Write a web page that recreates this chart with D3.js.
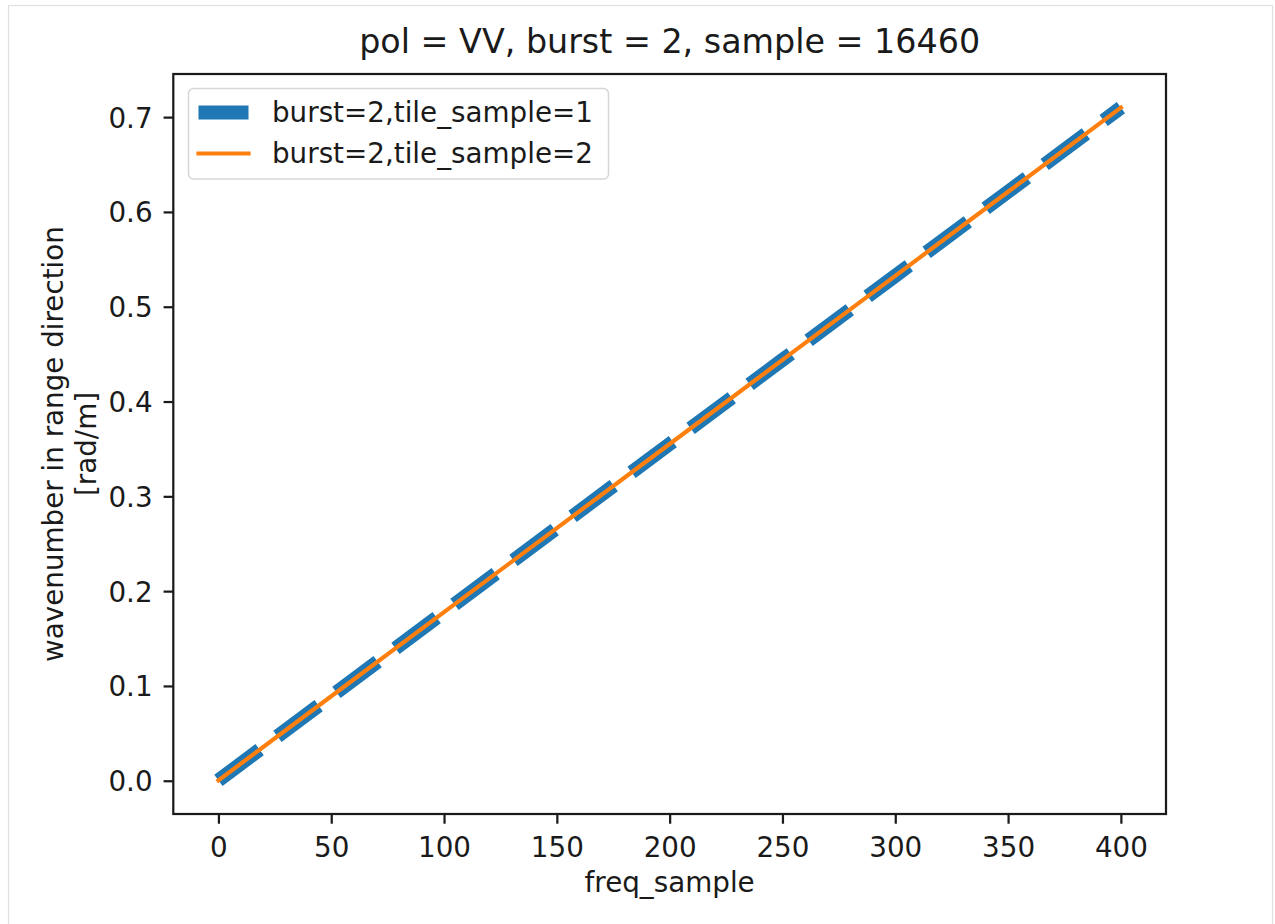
<!DOCTYPE html>
<html>
<head>
<meta charset="utf-8">
<script src="https://cdn.jsdelivr.net/npm/d3@7"></script>
<style>
  body { margin: 0; background: #fff; }
  text { font-family: "DejaVu Sans", sans-serif; fill: #1a1a1a; }
</style>
</head>
<body>
<div id="chart"></div>
<script>
// wavenumber vs freq_sample, two tiles of the same burst (they overlap)
const freqSample = [0, 50, 100, 150, 200, 250, 300, 350, 400];
const tile1Wavenumber = [0.0004, 0.0891, 0.1778, 0.2665, 0.3552, 0.4439, 0.5326, 0.6213, 0.7100];
const tile2Wavenumber = [0.0004, 0.0891, 0.1778, 0.2665, 0.3552, 0.4439, 0.5326, 0.6213, 0.7100];
const xTicks = [0, 50, 100, 150, 200, 250, 300, 350, 400];
const yTicks = [0.0, 0.1, 0.2, 0.3, 0.4, 0.5, 0.6, 0.7];
const seriesNames = ['burst=2,tile_sample=1', 'burst=2,tile_sample=2'];
const titleText = 'pol = VV, burst = 2, sample = 16460';

(function () {
  const width = 1275, height = 924;
  const box = { left: 173.3, right: 1166, top: 74, bottom: 814 };
  const pt = 200 / 72; // figure rendered at 200 dpi
  const fs = 10 * pt;

  const svg = d3.select('#chart').append('svg').attr('width', width).attr('height', height);

  // notebook output frame
  svg.append('rect').attr('x', 8.5).attr('y', 5.5).attr('width', 1264).attr('height', 940)
    .attr('fill', '#fff').attr('stroke', '#e0e0e0').attr('stroke-width', 1.2);

  // matplotlib style 5% margins
  const xExt = d3.extent(freqSample), yExt = d3.extent(tile1Wavenumber.concat(tile2Wavenumber));
  const xPad = (xExt[1] - xExt[0]) * 0.05, yPad = (yExt[1] - yExt[0]) * 0.05;
  const x = d3.scaleLinear().domain([xExt[0] - xPad, xExt[1] + xPad]).range([box.left, box.right]);
  const y = d3.scaleLinear().domain([yExt[0] - yPad, yExt[1] + yPad]).range([box.bottom, box.top]);

  const tickLen = 3.5 * pt;

  // x axis
  const xAxis = svg.append('g').attr('transform', `translate(0,${box.bottom})`)
    .call(d3.axisBottom(x).tickValues(xTicks).tickSize(tickLen).tickFormat(d3.format('d')));
  xAxis.select('.domain').remove();
  xAxis.selectAll('line').attr('stroke', '#1a1a1a').attr('stroke-width', 0.8 * pt);
  xAxis.selectAll('text').attr('font-size', fs).attr('font-family', '"DejaVu Sans", sans-serif')
    .attr('fill', '#1a1a1a').attr('y', 42.5).attr('dy', 0);

  // y axis
  const yAxis = svg.append('g').attr('transform', `translate(${box.left},0)`)
    .call(d3.axisLeft(y).tickValues(yTicks).tickSize(tickLen).tickPadding(11).tickFormat(d3.format('.1f')));
  yAxis.select('.domain').remove();
  yAxis.selectAll('line').attr('stroke', '#1a1a1a').attr('stroke-width', 0.8 * pt);
  yAxis.selectAll('text').attr('font-size', fs).attr('font-family', '"DejaVu Sans", sans-serif')
    .attr('fill', '#1a1a1a').attr('dy', '0.36em');

  // clip + lines
  svg.append('clipPath').attr('id', 'clip').append('rect')
    .attr('x', box.left).attr('y', box.top).attr('width', box.right - box.left).attr('height', box.bottom - box.top);

  const line = d3.line().x(d => x(d[0])).y(d => y(d[1]));
  const plot = svg.append('g').attr('clip-path', 'url(#clip)');
  const blueLw = 5 * pt, orangeLw = 1.5 * pt;
  const dash = `${3.7 * blueLw} ${1.6 * blueLw}`;
  plot.append('path').datum(freqSample.map((f, i) => [f, tile1Wavenumber[i]]))
    .attr('d', line).attr('fill', 'none').attr('stroke', '#1f77b4').attr('stroke-width', blueLw)
    .attr('stroke-dasharray', dash);
  plot.append('path').datum(freqSample.map((f, i) => [f, tile2Wavenumber[i]]))
    .attr('d', line).attr('fill', 'none').attr('stroke', '#ff7f0e').attr('stroke-width', orangeLw)
    .attr('stroke-linecap', 'square');

  // axes frame
  svg.append('rect').attr('x', box.left).attr('y', box.top)
    .attr('width', box.right - box.left).attr('height', box.bottom - box.top)
    .attr('fill', 'none').attr('stroke', '#1a1a1a').attr('stroke-width', 0.8 * pt);

  // legend
  const lg = svg.append('g');
  lg.append('rect').attr('x', 188.5).attr('y', 88.5).attr('width', 420).attr('height', 90.5).attr('rx', 5)
    .attr('fill', 'rgba(255,255,255,0.8)').attr('stroke', '#d6d6d6').attr('stroke-width', 1.5);
  const rows = [
    { name: seriesNames[0], color: '#1f77b4', lw: blueLw, dash: dash, cap: 'butt' },
    { name: seriesNames[1], color: '#ff7f0e', lw: orangeLw, dash: null, cap: 'square' }
  ];
  rows.forEach((r, i) => {
    const cy = 112.5 + i * 41;
    lg.append('line').attr('x1', 198.5).attr('x2', 248.5).attr('y1', cy).attr('y2', cy)
      .attr('stroke', r.color).attr('stroke-width', r.lw).attr('stroke-dasharray', r.dash).attr('stroke-linecap', r.cap);
    lg.append('text').attr('x', 272).attr('y', cy + 9).attr('font-size', fs).text(r.name);
  });

  // title and labels
  const cx = (box.left + box.right) / 2;
  svg.append('text').attr('x', cx).attr('y', 53).attr('text-anchor', 'middle').attr('font-size', 12 * pt).text(titleText);
  svg.append('text').attr('x', cx).attr('y', 892).attr('text-anchor', 'middle').attr('font-size', fs).text('freq_sample');

  const cy = (box.top + box.bottom) / 2;
  const yl = svg.append('text').attr('transform', `translate(62.5,${cy}) rotate(-90)`).attr('text-anchor', 'middle').attr('font-size', fs);
  yl.append('tspan').attr('x', 0).attr('y', 0).text('wavenumber in range direction');
  yl.append('tspan').attr('x', 0).attr('y', 33.4).text('[rad/m]');
})();
</script>
</body>
</html>
